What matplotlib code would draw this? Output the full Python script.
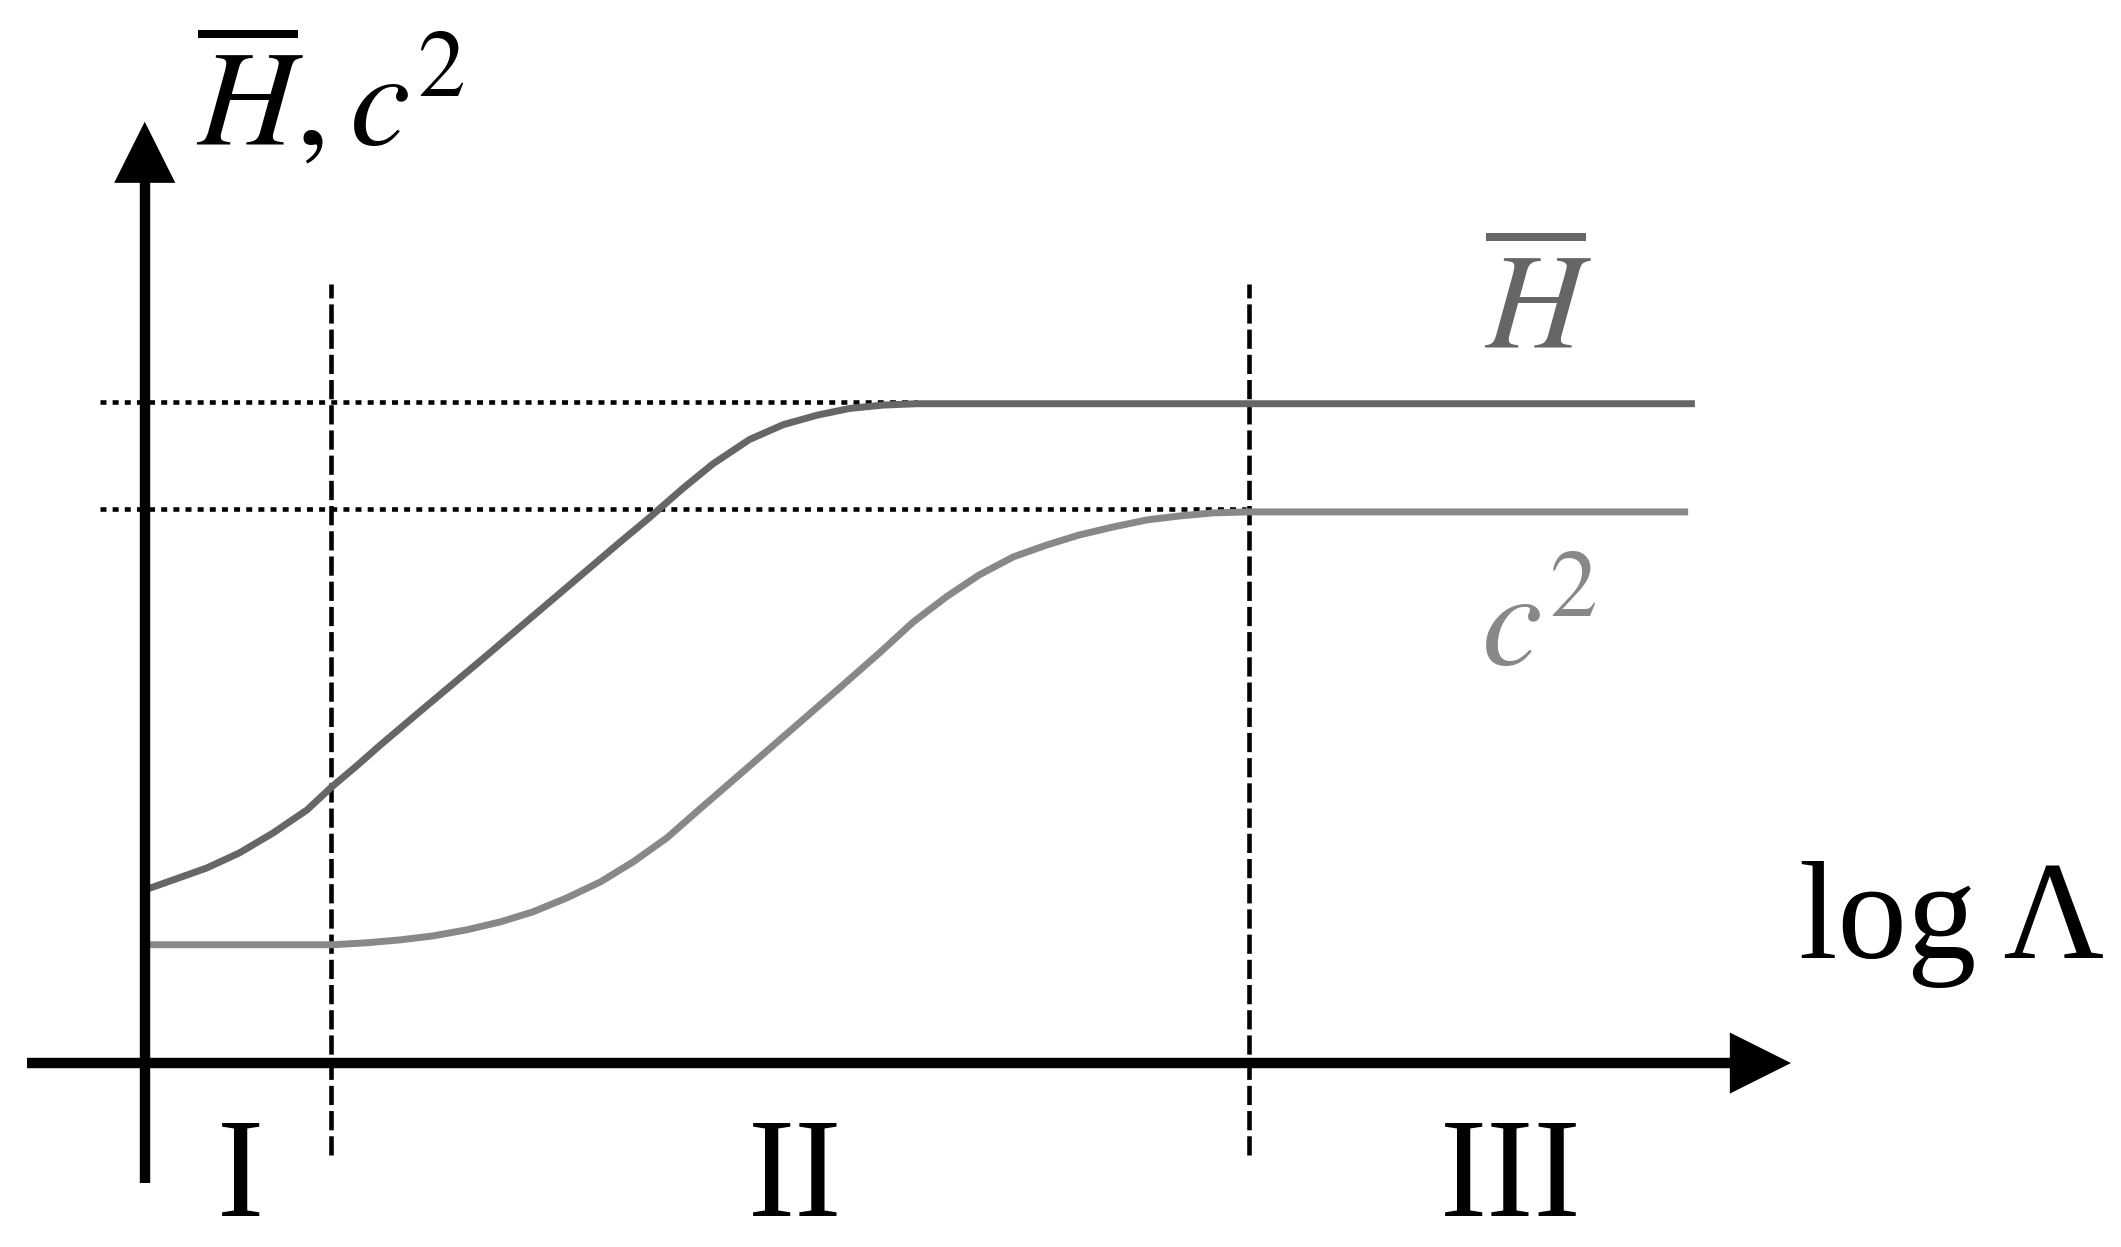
import matplotlib
matplotlib.use("Agg")
import matplotlib.pyplot as plt
from matplotlib.patches import FancyArrowPatch

plt.rcParams['mathtext.fontset'] = 'stix'

# Diagram units: origin at the crossing of the two axes
# H-bar curve
h_x = [0, 21, 46, 70, 95, 120, 138, 157, 174, 200, 250, 300, 350, 374, 379,
       398, 420, 447, 472, 497, 521, 546, 571, 1146]
h_y = [128, 135.4, 144.3, 155.4, 170.2, 187.2, 204, 220, 235, 257, 299,
       341.5, 384, 404, 408.5, 425, 443, 461, 472, 479, 484, 486.5, 487.5, 487.5]

# c^2 curve
c_x = [3, 115, 139, 164, 189, 213, 238, 263, 287, 312, 337, 361, 386, 410,
       425, 455, 485, 515, 544, 568, 593, 617, 642, 667, 691, 716, 741, 765,
       790, 815, 1141]
c_y = [87.5, 87.5, 87.5, 88.9, 91.1, 94, 98.5, 104.4, 111.8, 122.1, 134,
       148.7, 166.5, 187.5, 200.5, 226.5, 252.5, 278.5, 304, 326, 345, 361,
       374.2, 383.1, 390.5, 396.4, 401.6, 404.5, 406.8, 407.5, 407.5]

# regime boundaries and saturation levels
boundaries = [138, 816]
levels = [489, 409.5]
level_ends = [571, 814]
regions = ["I", "II", "III"]
region_x = [71, 481, 1010]

fig = plt.figure(figsize=(21.21, 12.47), dpi=100)
ax = fig.add_axes([0, 0, 1, 1])
ax.set_xlim(-107, 1461)
ax.set_ylim(-136, 786)
ax.axis('off')

# dotted horizontal levels
for lv, xe in zip(levels, level_ends):
    ax.plot([-33, xe], [lv, lv], color='black', lw=3.3,
            dashes=(1.3, 1.35), solid_capstyle='butt', zorder=1)

# dashed vertical boundaries
for bx in boundaries:
    ax.plot([bx, bx], [-68, 576], color='black', lw=3.3,
            dashes=(4.2, 1.3), zorder=1)

# curves
ax.plot(h_x, h_y, color='#666666', lw=5.0, solid_capstyle='butt',
        solid_joinstyle='round', zorder=3)
ax.plot(c_x, c_y, color='#888888', lw=5.0, solid_capstyle='butt',
        solid_joinstyle='round', zorder=3)

# axes (shafts) with arrowheads
ax.plot([0, 0], [-89, 655], color='black', lw=7.5, solid_capstyle='butt', zorder=4)
ax.plot([-87, 1180], [0, 0], color='black', lw=7.5, solid_capstyle='butt', zorder=4)
for (x0, y0), (x1, y1) in [((0, 640), (0, 696)), ((1160, 0), (1217, 0))]:
    head = FancyArrowPatch((x0, y0), (x1, y1),
                           arrowstyle="-|>,head_length=4.4,head_width=2.2",
                           mutation_scale=10, lw=0, color='black',
                           shrinkA=0, shrinkB=0, zorder=5)
    ax.add_patch(head)

# labels
ax.text(38, 679, r"$\overline{H}, c^{2}$", fontsize=98, color='black',
        ha='left', va='baseline')
ax.text(1030, 529, r"$\overline{H}$", fontsize=98, color='#666666',
        ha='center', va='baseline')
ax.text(1031, 294, r"$c^{2}$", fontsize=98, color='#888888',
        ha='center', va='baseline')
ax.text(1223, 78, "log Λ", fontsize=100, family='Liberation Serif',
        color='black', ha='left', va='baseline')
for lab, rx in zip(regions, region_x):
    ax.text(rx, -113, lab, fontsize=102, family='Liberation Serif',
            color='black', ha='center', va='baseline')

fig.savefig("out.png", dpi=100, facecolor='white')
